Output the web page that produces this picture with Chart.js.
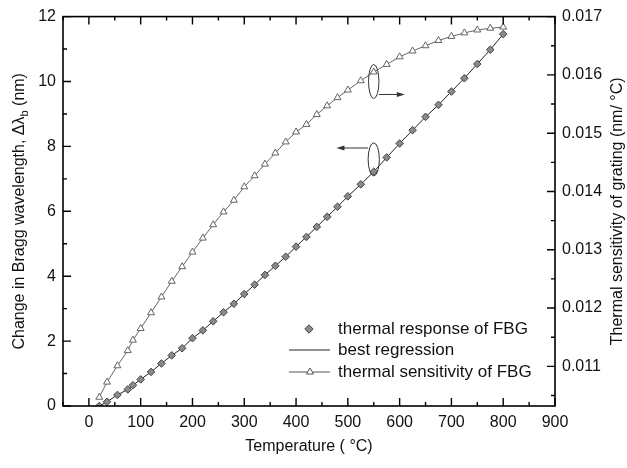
<!DOCTYPE html>
<html>
<head>
<meta charset="utf-8">
<style>
  body { margin: 0; background: #fff; }
</style>
</head>
<body>
<canvas id="myChart" width="627" height="468"></canvas>
<script src="https://cdn.jsdelivr.net/npm/chart.js@4.4.0/dist/chart.umd.min.js"></script>
<script>
// temperature of each reading (deg C)
const temps = [20, 35, 55, 75, 85, 100, 120, 140, 160, 180, 200, 220, 240, 260, 280,
               300, 320, 340, 360, 380, 400, 420, 440, 460, 480, 500,
               525, 550, 575, 600, 625, 650, 675, 700, 725, 750, 775, 800];
// change in Bragg wavelength (nm) - left axis
const shift = [0.0, 0.13, 0.34, 0.51, 0.64, 0.82, 1.05, 1.31, 1.56, 1.78, 2.09, 2.33, 2.61, 2.89, 3.15,
               3.45, 3.74, 4.04, 4.32, 4.60, 4.91, 5.21, 5.52, 5.83, 6.14, 6.46,
               6.83, 7.22, 7.66, 8.09, 8.50, 8.91, 9.28, 9.69, 10.10, 10.54, 10.98, 11.46];
// thermal sensitivity of grating (nm/deg C) - right axis
const sens = [0.01047, 0.01073, 0.01101, 0.01127, 0.01145, 0.01165, 0.01192, 0.01219, 0.01246, 0.01271,
              0.01296, 0.01320, 0.01343, 0.01365, 0.01385, 0.01408, 0.01427, 0.01447, 0.01466, 0.01485,
              0.01502, 0.01515, 0.01532, 0.01547, 0.01561, 0.01574, 0.01590, 0.01605, 0.01618, 0.01631,
              0.01641, 0.01650, 0.01659, 0.01666, 0.01672, 0.01677, 0.01680, 0.01682];

const xTicks = [0, 100, 200, 300, 400, 500, 600, 700, 800, 900];
const yTicks = [0, 2, 4, 6, 8, 10, 12];
const y2Ticks = [0.011, 0.012, 0.013, 0.014, 0.015, 0.016, 0.017];

const FONT = '"Liberation Sans", Arial, sans-serif';
const ink = '#111';

const pts = vals => temps.map((t, i) => ({ x: t, y: vals[i] }));

function drawText(ctx, parts, cx, cy, rot) {
  // parts: [text, 'sub'|''], whole run centred on (cx, cy)
  ctx.save();
  ctx.translate(cx, cy);
  ctx.rotate(rot);
  ctx.textBaseline = 'middle';
  ctx.textAlign = 'left';
  let w = 0;
  parts.forEach(p => {
    ctx.font = (p[1] === 'sub' ? '11px ' : '16px ') + FONT;
    w += ctx.measureText(p[0]).width;
  });
  let x = -w / 2;
  parts.forEach(p => {
    ctx.font = (p[1] === 'sub' ? '11px ' : '16px ') + FONT;
    ctx.fillText(p[0], x, p[1] === 'sub' ? 5 : 0);
    x += ctx.measureText(p[0]).width;
  });
  ctx.restore();
}

function arrow(ctx, x1, y, x2) {
  const dir = x2 > x1 ? 1 : -1;
  ctx.beginPath();
  ctx.moveTo(x1, y);
  ctx.lineTo(x2 - dir * 6, y);
  ctx.stroke();
  ctx.beginPath();
  ctx.moveTo(x2, y);
  ctx.lineTo(x2 - dir * 8, y - 2.5);
  ctx.lineTo(x2 - dir * 8, y + 2.5);
  ctx.closePath();
  ctx.fill();
}

const framePlugin = {
  id: 'frame',
  afterDatasetsDraw(chart) {
    const ctx = chart.ctx;
    const sx = chart.scales.x, sy = chart.scales.y;
    ctx.save();
    ctx.strokeStyle = '#333';
    ctx.fillStyle = '#333';
    ctx.lineWidth = 1;
    // ellipse + arrow for the sensitivity curve (right axis)
    let cx = sx.getPixelForValue(550);
    let cy = sy.getPixelForValue(10.0);
    ctx.beginPath();
    ctx.ellipse(cx, cy, 5.2, 17, 0, 0, Math.PI * 2);
    ctx.stroke();
    arrow(ctx, cx + 5.2, sy.getPixelForValue(9.6), sx.getPixelForValue(610));
    // ellipse + arrow for the response curve (left axis)
    cy = sy.getPixelForValue(7.6);
    ctx.beginPath();
    ctx.ellipse(cx, cy, 5.6, 16.5, 0, 0, Math.PI * 2);
    ctx.stroke();
    arrow(ctx, cx - 5.6, sy.getPixelForValue(7.95), sx.getPixelForValue(478));

    // legend
    const lx = 289, tx = 338;
    const rows = [329, 350, 372];
    ctx.font = '17px ' + FONT;
    ctx.textBaseline = 'middle';
    ctx.textAlign = 'left';
    ctx.fillStyle = ink;
    ctx.fillText('thermal response of FBG', tx, rows[0]);
    ctx.fillText('best regression', tx, rows[1]);
    ctx.fillText('thermal sensitivity of FBG', tx, rows[2]);
    // diamond
    ctx.beginPath();
    ctx.moveTo(309, rows[0] - 4.2);
    ctx.lineTo(313.2, rows[0]);
    ctx.lineTo(309, rows[0] + 4.2);
    ctx.lineTo(304.8, rows[0]);
    ctx.closePath();
    ctx.fillStyle = '#8a8a8a';
    ctx.fill();
    ctx.strokeStyle = '#444';
    ctx.stroke();
    // line
    ctx.strokeStyle = '#222';
    ctx.beginPath();
    ctx.moveTo(lx, rows[1]);
    ctx.lineTo(330, rows[1]);
    ctx.stroke();
    // line with triangle
    ctx.strokeStyle = '#555';
    ctx.beginPath();
    ctx.moveTo(lx, rows[2]);
    ctx.lineTo(330, rows[2]);
    ctx.stroke();
    ctx.beginPath();
    ctx.moveTo(310, rows[2] - 4);
    ctx.lineTo(313.5, rows[2] + 2);
    ctx.lineTo(306.5, rows[2] + 2);
    ctx.closePath();
    ctx.fillStyle = '#fff';
    ctx.fill();
    ctx.stroke();
    ctx.restore();
  },
  afterDraw(chart) {
    const ctx = chart.ctx;
    const a = chart.chartArea;
    const sx = chart.scales.x, sy = chart.scales.y, sy2 = chart.scales.y2;
    ctx.save();
    ctx.strokeStyle = '#000';
    ctx.lineWidth = 1.6;
    ctx.strokeRect(a.left, a.top, a.right - a.left, a.bottom - a.top);
    ctx.lineWidth = 1.4;
    ctx.beginPath();
    // bottom and top ticks, every 50
    for (let k = -1; k <= 18; k++) {
      const x = sx.getPixelForValue(k * 50);
      const len = k % 2 === 0 ? 8 : 4;
      ctx.moveTo(x, a.bottom); ctx.lineTo(x, a.bottom - len);
      ctx.moveTo(x, a.top); ctx.lineTo(x, a.top + len);
    }
    // left ticks, every 1
    for (let v = 0; v <= 12; v++) {
      const y = sy.getPixelForValue(v);
      const len = v % 2 === 0 ? 8 : 4;
      ctx.moveTo(a.left, y); ctx.lineTo(a.left + len, y);
    }
    // right ticks, every 0.0005
    for (let k = 21; k <= 34; k++) {
      const y = sy2.getPixelForValue(k * 0.0005);
      const len = k % 2 === 0 ? 8 : 4;
      ctx.moveTo(a.right, y); ctx.lineTo(a.right - len, y);
    }
    ctx.stroke();

    ctx.fillStyle = ink;
    const midY = (a.top + a.bottom) / 2;
    drawText(ctx, [['Change in Bragg wavelength, \u0394\u03bb', ''], ['b', 'sub'], [' (nm)', '']], 20, midY, -Math.PI / 2);
    drawText(ctx, [['Thermal sensitivity of grating (nm/ \u00b0C)', '']], 618, midY, -Math.PI / 2);
    drawText(ctx, [['Temperature ( \u00b0C)', '']], (a.left + a.right) / 2, 447, 0);
    ctx.restore();
  }
};

const tickFont = { family: FONT, size: 16 };
const noGrid = { display: false, drawTicks: false, tickLength: 0 };

new Chart('myChart', {
  type: 'scatter',
  data: {
    datasets: [
      {
        label: 'best regression',
        data: pts(shift),
        yAxisID: 'y',
        showLine: true,
        borderColor: '#222',
        borderWidth: 1,
        pointRadius: 0,
        order: 3
      },
      {
        label: 'thermal response of FBG',
        data: pts(shift),
        yAxisID: 'y',
        showLine: false,
        pointStyle: 'rectRot',
        pointRadius: 3.8,
        backgroundColor: '#8a8a8a',
        borderColor: '#444',
        borderWidth: 1,
        order: 1
      },
      {
        label: 'thermal sensitivity of FBG',
        data: pts(sens),
        yAxisID: 'y2',
        showLine: true,
        borderColor: '#555',
        borderWidth: 0.9,
        pointStyle: 'triangle',
        pointRadius: 4,
        backgroundColor: '#fff',
        pointBorderColor: '#555',
        pointBorderWidth: 0.9,
        order: 2
      }
    ]
  },
  options: {
    responsive: false,
    animation: false,
    layout: { padding: { top: 14, left: 0, right: 0, bottom: 0 } },
    plugins: { legend: { display: false }, tooltip: { enabled: false } },
    scales: {
      x: {
        type: 'linear', min: -50, max: 900,
        grid: noGrid, border: { display: false },
        afterBuildTicks: s => { s.ticks = xTicks.map(v => ({ value: v })); },
        afterFit: s => { s.height = 62; },
        ticks: { padding: 7, color: ink, font: tickFont, autoSkip: false, maxRotation: 0 }
      },
      y: {
        position: 'left', min: 0, max: 12,
        grid: noGrid, border: { display: false },
        afterBuildTicks: s => { s.ticks = yTicks.map(v => ({ value: v })); },
        afterFit: s => { s.width = 63; },
        ticks: { padding: 7, color: ink, font: tickFont }
      },
      y2: {
        position: 'right', min: 0.01032, max: 0.017,
        grid: noGrid, border: { display: false },
        afterBuildTicks: s => { s.ticks = y2Ticks.map(v => ({ value: v })); },
        afterFit: s => { s.width = 72; },
        ticks: { padding: 7, color: ink, font: tickFont, callback: v => v.toFixed(3) }
      }
    }
  },
  plugins: [framePlugin]
});
</script>
</body>
</html>
